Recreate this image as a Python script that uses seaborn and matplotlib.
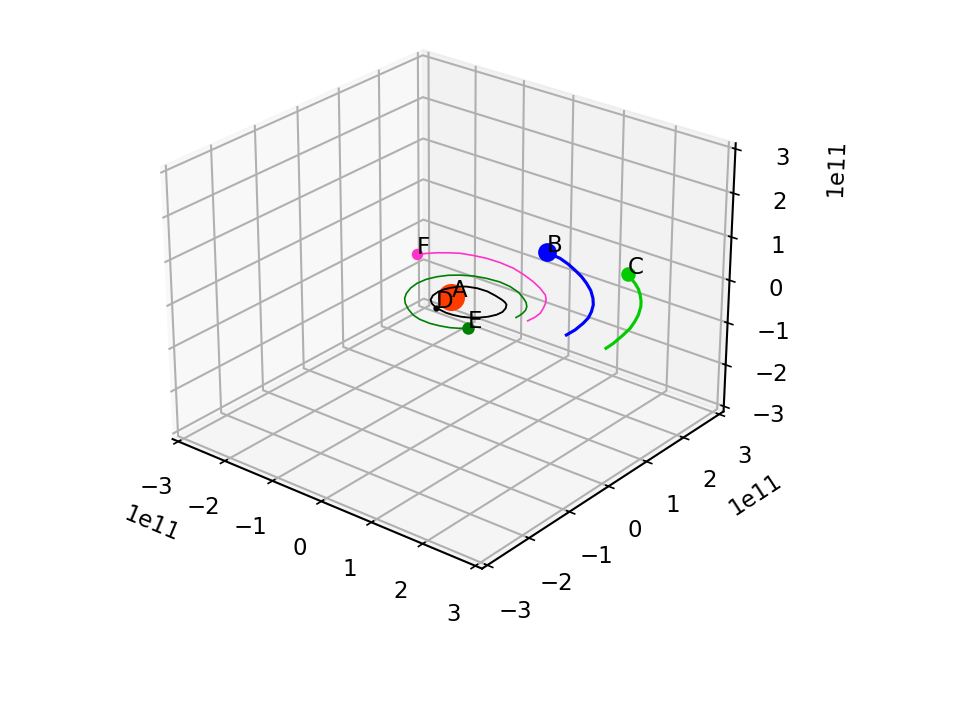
import numpy as np
import matplotlib
matplotlib.use("Agg")
import matplotlib.pyplot as plt
import seaborn as sns

# Orbit traces in units of 1e11, first point is where the body sits now
names = ["A", "B", "C", "D", "E", "F"]
colors = ["#ff3c00", "#0000ff", "#00cc00", "#000000", "#008000", "#ff33cc"]

a_x = [0.09]
a_y = [-0.09]
b_x = [0.26, 0.56, 0.79, 1.01, 1.24, 1.44, 1.65, 1.84, 1.98, 2.1, 2.19, 2.24, 2.28, 2.28]
b_y = [2.13, 2.09, 2.0, 1.89, 1.76, 1.62, 1.45, 1.25, 1.07, 0.86, 0.66, 0.46, 0.2, -0.02]
c_x = [1.75, 2.03, 2.2, 2.34, 2.48, 2.59, 2.73, 2.82, 2.9, 2.95, 3.0, 3.01]
c_y = [2.29, 2.1, 1.96, 1.81, 1.64, 1.48, 1.22, 1.0, 0.77, 0.52, 0.2, -0.0]
d_x = [0.15, 0.01, -0.09, -0.16, -0.18, -0.16, -0.11, -0.04, 0.05, 0.22, 0.41, 0.6, 0.77, 0.86, 0.93,
       1.0, 1.04, 1.03, 0.97, 0.88, 0.77, 0.65, 0.52, 0.38, 0.25, 0.15]
d_y = [-0.54, -0.47, -0.38, -0.24, -0.08, 0.05, 0.16, 0.27, 0.34, 0.4, 0.41, 0.37, 0.32, 0.28, 0.23,
       0.12, -0.01, -0.14, -0.28, -0.39, -0.48, -0.54, -0.57, -0.58, -0.56, -0.54]
e_x = [0.98, 0.87, 0.75, 0.59, 0.42, 0.21, 0.04, -0.15, -0.32, -0.44, -0.53, -0.6, -0.63, -0.61, -0.54, -0.43,
       -0.29, -0.1, 0.11, 0.35, 0.58, 0.81, 1.0, 1.12, 1.22, 1.28, 1.31, 1.32, 1.32]
e_y = [-0.78, -0.87, -0.94, -0.99, -1.02, -1.01, -0.96, -0.85, -0.72, -0.59, -0.44, -0.25, -0.06, 0.14, 0.32, 0.48,
       0.6, 0.71, 0.77, 0.8, 0.77, 0.69, 0.57, 0.48, 0.37, 0.26, 0.15, 0.06, -0.03]
f_x = [-1.31, -1.2, -1.1, -0.95, -0.8, -0.58, -0.35, -0.08, 0.21, 0.47, 0.75, 0.98, 1.19, 1.29, 1.37, 1.45, 1.52, 1.54, 1.53]
f_y = [0.77, 0.9, 1.01, 1.13, 1.23, 1.3, 1.35, 1.36, 1.33, 1.25, 1.14, 1.02, 0.88, 0.77, 0.65, 0.49, 0.32, 0.16, -0.01]

traces_x = [a_x, b_x, c_x, d_x, e_x, f_x]
traces_y = [a_y, b_y, c_y, d_y, e_y, f_y]
marker_sizes = [12, 8, 6, 2, 5, 4.5]
line_widths = [1.0, 1.5, 1.5, 0.9, 0.8, 0.8]

plt.rcParams["font.size"] = 11
plt.rcParams["grid.linewidth"] = 1.0
plt.rcParams["axes.linewidth"] = 1.0
palette = sns.color_palette(colors)

fig = plt.figure(figsize=(6.4, 4.8), dpi=150)
ax = fig.add_subplot(projection="3d", azim=-51, elev=26, computed_zorder=False)
ax.set_position([0.125 - 49 / 960, 0.11 + 63 / 720, 0.775, 0.77])
ax.set_box_aspect(None, zoom=1.122)

for name, xs, ys, color, ms, lw in zip(names, traces_x, traces_y, palette, marker_sizes, line_widths):
    x = np.array(xs) * 1e11
    y = np.array(ys) * 1e11
    z = np.zeros(len(x))
    ax.plot(x, y, z, color=color, lw=lw)
    ax.plot(x[:1], y[:1], z[:1], "o", color=color, ms=ms)
    ax.text(x[0], y[0], z[0], name, color="black")

ax.set_xlim(-3e11, 3e11, view_margin=1 / 48)
ax.set_ylim(-3e11, 3e11, view_margin=1 / 48)
ax.set_zlim(-3e11, 3e11, view_margin=1 / 48)

fig.savefig("out.png")
